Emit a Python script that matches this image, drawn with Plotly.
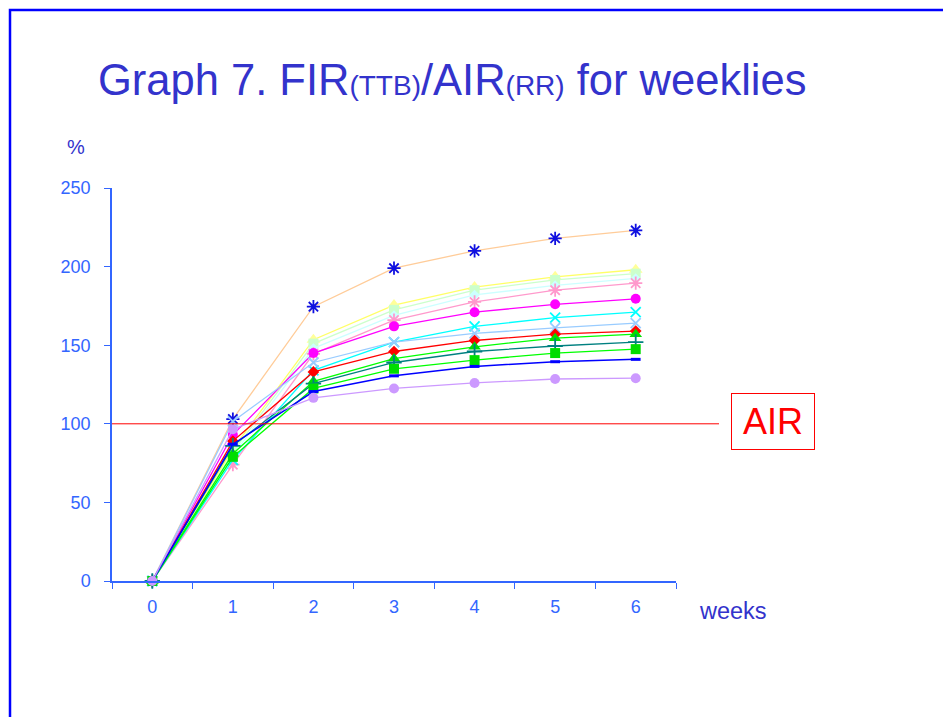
import plotly.graph_objects as go

weeks = ["0", "1", "2", "3", "4", "5", "6"]

s_peach = [0, 103, 174.5, 199, 210, 218, 223]
s_yellow = [0, 84, 153.5, 175.5, 187, 193.5, 198]
s_lightgreen = [0, 82, 151, 172.5, 185, 191.5, 195.5]
s_lightcyan = [0, 80, 148, 169, 182, 188, 192.5]
s_pink = [0, 74, 144.5, 166, 177.5, 185, 189.5]
s_magenta = [0, 93, 145, 162, 171, 176, 179.5]
s_cyan = [0, 77, 134, 152, 162, 167.5, 171]
s_lightblue = [0, 101.5, 139, 152, 157.5, 161, 164]
s_red = [0, 89, 133, 146, 153, 157, 159]
s_green_tri = [0, 81, 127, 141.5, 149, 154.5, 157]
s_teal = [0, 86, 125.5, 139, 146, 149.5, 152]
s_green_sq = [0, 79, 122.5, 135, 140.5, 145, 147.5]
s_blue = [0, 87, 120.5, 130.5, 136.5, 139.5, 141]
s_lavender = [0, 96.5, 116.5, 122.5, 126, 128.5, 129]

air_level = 100
y_ticks = [0, 50, 100, 150, 200, 250]

series = [
    (s_peach, "#FFCC99", 1.3, "asterisk", "#1010E0", 11),
    (s_yellow, "#FFFF66", 1.3, "triangle-up", "#FFFF99", 12),
    (s_lightgreen, "#CCFFCC", 1.3, "square", "#CCFFCC", 10),
    (s_lightcyan, "#CCFFFF", 1.3, "diamond", "#CCFFFF", 8),
    (s_pink, "#FF99CC", 1.3, "asterisk", "#FF99CC", 11),
    (s_magenta, "#FF00FF", 1.3, "circle", "#FF00FF", 10),
    (s_cyan, "#00FFFF", 1.3, "x-thin", "#00FFFF", 10),
    (s_lightblue, "#99CCFF", 1.3, "x-thin", "#99CCFF", 10),
    (s_red, "#FF0000", 1.3, "diamond", "#FF0000", 9),
    (s_green_tri, "#00FF00", 1.3, "triangle-up", "#00DD00", 11),
    (s_teal, "#008080", 1.3, "cross-thin", "#008080", 11),
    (s_green_sq, "#00FF00", 1.3, "square", "#00DD00", 10),
    (s_blue, "#0000FF", 1.5, "line-ew", "#0000FF", 7),
    (s_lavender, "#CC99FF", 1.3, "circle", "#CC99FF", 10),
]

fig = go.Figure()
for vals, lc, lw, sym, mc, ms in series:
    open_sym = sym in ("asterisk", "x-thin", "cross-thin", "line-ew")
    fig.add_trace(go.Scatter(
        x=weeks, y=vals, mode="lines+markers",
        line=dict(color=lc, width=lw),
        marker=dict(symbol=sym, size=ms, color=mc,
                    line=dict(color=mc, width=(3 if sym == "line-ew" else 1.8) if open_sym else 0)),
        cliponaxis=False, showlegend=False, hoverinfo="skip"))

axis_color = "#3366FF"
text_color = "#3333CC"
font_family = "Liberation Sans, Arial, sans-serif"

# page body adds an 8px offset; margins compensate so the plot area sits at x 112-676, y 188-581
fig.update_layout(
    width=951, height=717,
    margin=dict(l=104, r=283, t=180, b=144),
    paper_bgcolor="white", plot_bgcolor="white",
    font=dict(family=font_family),
    xaxis=dict(type="category", categoryorder="array", categoryarray=weeks,
               range=[-0.5, 6.5], tickson="boundaries", ticks="outside",
               ticklen=6, tickcolor=axis_color, showline=True,
               linecolor=axis_color, linewidth=1.5, showgrid=False,
               zeroline=False, tickfont=dict(size=18, color=axis_color),
               ticklabelstandoff=9, fixedrange=True),
    yaxis=dict(range=[0, 250], tickvals=y_ticks, ticks="outside", ticklen=6,
               tickcolor=axis_color, showline=True, linecolor=axis_color,
               linewidth=1.5, showgrid=False, zeroline=False,
               tickfont=dict(size=18, color=axis_color),
               ticklabelstandoff=10, fixedrange=True),
)

W, H = 564, 393
def px(x):
    return (x - 112) / W
def py(y):
    return (581 - y) / H

# AIR reference line extends beyond plot area
fig.add_shape(type="line", xref="paper", yref="y", x0=0, x1=px(719),
              y0=air_level, y1=air_level, line=dict(color="#FF0000", width=1))

# slide border
fig.add_shape(type="rect", xref="paper", yref="paper",
              x0=px(10), x1=px(975), y0=py(740), y1=py(10),
              line=dict(color="#0000FF", width=2.5))

small = "<span style='font-size:28px'>"
fig.add_annotation(
    xref="paper", yref="paper", x=px(96), y=py(80),
    xanchor="left", yanchor="middle", showarrow=False,
    text=f"Graph 7. FIR{small}(TTB)</span>/AIR{small}(RR)</span> for weeklies",
    font=dict(size=43.5, color=text_color, family=font_family))

fig.add_annotation(xref="paper", yref="paper", x=px(76), y=py(147),
                   xanchor="center", yanchor="middle", showarrow=False,
                   text="%", font=dict(size=20, color=text_color))
fig.add_annotation(xref="paper", yref="paper", x=px(733), y=py(611),
                   xanchor="center", yanchor="middle", showarrow=False,
                   text="weeks", font=dict(size=23.5, color=text_color))
fig.add_annotation(xref="paper", yref="paper", x=px(773), y=py(421),
                   xanchor="center", yanchor="middle", showarrow=False,
                   text="AIR", font=dict(size=36, color="#FF0000"),
                   bordercolor="#FF0000", borderwidth=1, borderpad=5,
                   width=72, height=45)

fig.write_html("out.html")
